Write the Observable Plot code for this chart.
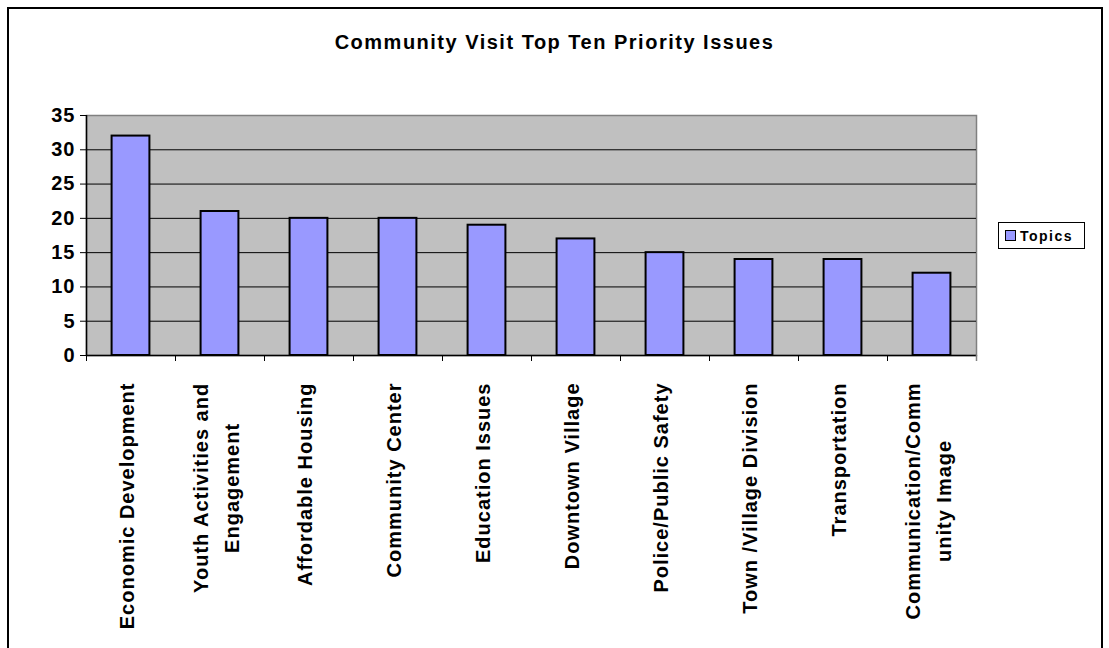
<!DOCTYPE html>
<html><head><meta charset="utf-8">
<script src="https://cdn.jsdelivr.net/npm/d3@7"></script>
<script src="https://cdn.jsdelivr.net/npm/@observablehq/plot@0.6"></script>
<style>
body{margin:0;background:#fff;}
#wrap{position:relative;width:1109px;height:648px;overflow:hidden;font-family:"Liberation Sans",Arial,sans-serif;color:#000;}
#chart{position:absolute;left:0;top:0;}
#border{position:absolute;left:7px;top:7px;width:1092px;height:720px;border:2px solid #000;pointer-events:none;}
#title{position:absolute;left:0;top:32px;width:1109px;text-align:center;font-weight:bold;font-size:20px;line-height:20px;letter-spacing:1.5px;}
#legend{position:absolute;left:998px;top:222px;width:87px;height:27px;box-sizing:border-box;border:1px solid #000;background:#fff;display:flex;align-items:center;padding-left:6px;}
#legend .sw{width:9px;height:9px;border:1.5px solid #000;background:#9999FF;margin-right:4px;}
#legend .lb{font-weight:bold;font-size:14px;letter-spacing:1.5px;}
</style>
</head><body>
<div id="wrap">
  <div id="chart"></div>
  <div id="title"></div>
  <div id="legend"><div class="sw"></div><div class="lb"></div></div>
  <div id="border"></div>
</div>
<script>
const titleText = "Community Visit Top Ten Priority Issues";
const seriesName = "Topics";
const topics = [
  "Economic Development",
  "Youth Activities and Engagement",
  "Affordable Housing",
  "Community Center",
  "Education Issues",
  "Downtown Village",
  "Police/Public Safety",
  "Town /Village Division",
  "Transportation",
  "Communication/Community Image"
];
const labelLines = [
  ["Economic Development"],
  ["Youth Activities and", "Engagement"],
  ["Affordable Housing"],
  ["Community Center"],
  ["Education Issues"],
  ["Downtown Village"],
  ["Police/Public Safety"],
  ["Town /Village Division"],
  ["Transportation"],
  ["Communication/Comm", "unity Image"]
];
const counts = [32, 21, 20, 20, 19, 17, 15, 14, 14, 12];
const yTicks = [0, 5, 10, 15, 20, 25, 30, 35];
const gridValues = [5, 10, 15, 20, 25, 30];

document.getElementById("title").textContent = titleText;
document.querySelector("#legend .lb").textContent = seriesName;

const data = topics.map((t, i) => ({topic: t, count: counts[i]}));

const W = 1109, H = 648;
const mL = 86, mR = 133, mT = 115, mB = 293;
const step = (W - mL - mR) / topics.length;
const LS = 1;
const FS = 20;

const cv = document.createElement("canvas").getContext("2d");
cv.font = `bold ${FS}px "Liberation Sans", Arial, sans-serif`;
const measure = s => cv.measureText(s).width + LS * s.length;

const labelMarks = [];
const labelTop = 27;
const lineGap = 31;
labelLines.forEach((lines, i) => {
  const maxW = Math.max(...lines.map(measure));
  lines.forEach((line, j) => {
    labelMarks.push(Plot.text([topics[i]], {
      x: d => d,
      frameAnchor: "bottom",
      text: () => line,
      rotate: -90,
      textAnchor: "middle",
      dy: labelTop + maxW / 2,
      dx: 3 + (j - (lines.length - 1) / 2) * lineGap,
      fontSize: FS,
      fontWeight: "bold",
      fill: "#000"
    }));
  });
});

const chart = Plot.plot({
  width: W, height: H,
  marginLeft: mL, marginRight: mR, marginTop: mT, marginBottom: mB,
  style: {fontFamily: '"Liberation Sans", Arial, sans-serif', fontWeight: "bold", fontSize: FS + "px", letterSpacing: LS + "px", color: "#000", background: "transparent"},
  x: {domain: topics, paddingInner: 0.575, paddingOuter: 0.2875, round: false, axis: null},
  y: {domain: [0, 35], axis: null},
  marks: [
    Plot.frame({fill: "#C0C0C0", stroke: "#808080", strokeWidth: 1.5}),
    Plot.ruleY(gridValues, {stroke: "#000", strokeWidth: 1}),
    Plot.barY(data, {x: "topic", y: "count", fill: "#9999FF", stroke: "#000", strokeWidth: 2}),
    Plot.ruleY([0], {stroke: "#000", strokeWidth: 1.5}),
    Plot.ruleX([topics[0]], {x: d => d, dx: -step / 2, stroke: "#000", strokeWidth: 1.5}),
    Plot.ruleX(topics, {x: d => d, dx: -step / 2, y1: 0, y2: 0, insetBottom: -6, stroke: "#000", strokeWidth: 1}),
    Plot.ruleX([topics[topics.length - 1]], {x: d => d, dx: step / 2, y1: 0, y2: 0, insetBottom: -6, stroke: "#808080", strokeWidth: 1.5}),
    Plot.axisY({ticks: yTicks, tickSize: 6, tickPadding: 5, tickFormat: d => String(d), fontSize: FS, fontWeight: "bold", stroke: "#000", fill: "#000", label: null}),
    ...labelMarks
  ]
});
document.getElementById("chart").appendChild(chart);
</script>
</body></html>
